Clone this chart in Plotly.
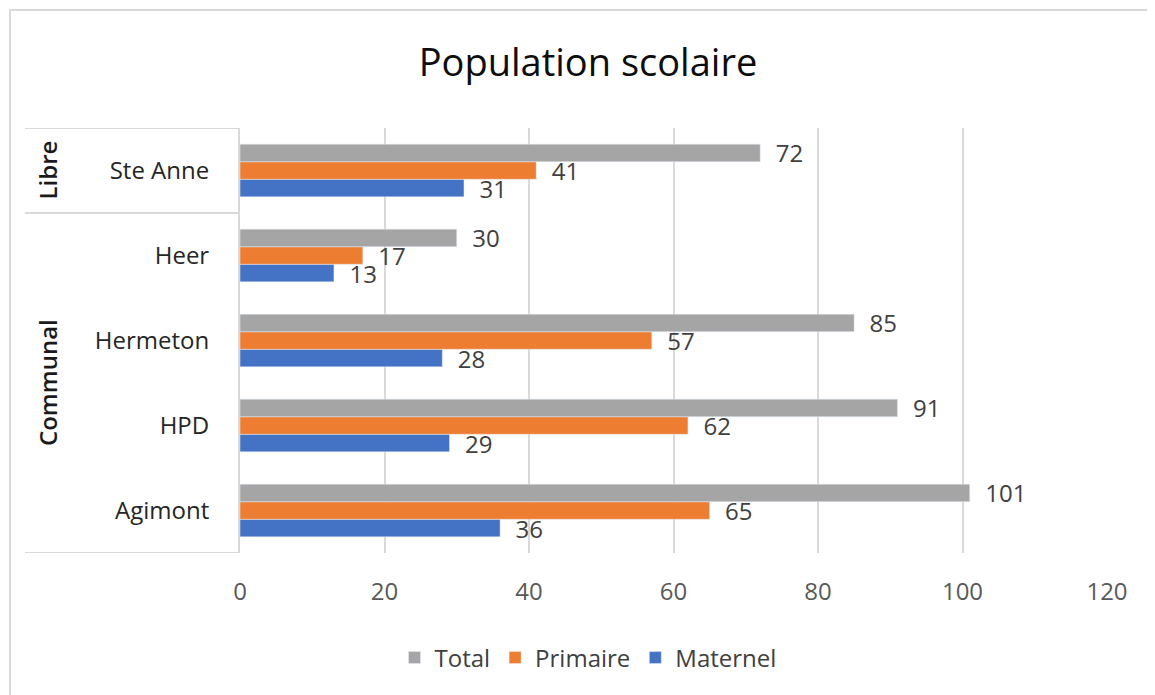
import plotly.graph_objects as go

schools = ["Agimont", "HPD", "Hermeton", "Heer", "Ste Anne"]
groups = ["Communal", "Communal", "Communal", "Communal", "Libre"]
maternel = [36, 29, 28, 13, 31]
primaire = [65, 62, 57, 17, 41]
total = [101, 91, 85, 30, 72]
x_ticks = [0, 20, 40, 60, 80, 100, 120]

OFF = 8  # browser body margin
W, H = 1155 - OFF, 695 - OFF
L, R, T, B = 240 - OFF, 48, 128 - OFF, 142
pw, ph = W - L - R, H - T - B

def px_x(p):
    return (p - OFF - L) / pw

def px_y(p):
    return (H - B - (p - OFF)) / ph

FONT = "Open Sans"
fig = go.Figure()
series = [("Maternel", maternel, "#4472C4"), ("Primaire", primaire, "#ED7D31"), ("Total", total, "#A5A5A5")]
for name, vals, col in series:
    fig.add_trace(go.Bar(
        y=schools, x=vals, name=name, orientation="h", marker_color=col,
        text=vals, texttemplate="\u00a0\u00a0%{x}", textposition="outside", constraintext="none",
        textfont=dict(family=FONT, size=24, color="#404040"), cliponaxis=False,
    ))

# group spans on the category axis (index positions)
group_names = []
for g in groups:
    if g not in group_names:
        group_names.append(g)
spans = {g: [i for i, gg in enumerate(groups) if gg == g] for g in group_names}

shapes = []
line = dict(color="#d9d9d9", width=2)
bounds = sorted({min(v) - 0.5 for v in spans.values()} | {max(v) + 0.5 for v in spans.values()})
for b in bounds:
    shapes.append(dict(type="line", xref="paper", yref="y", x0=px_x(25), x1=0, y0=b, y1=b, line=line))
# chart border
shapes.append(dict(type="rect", xref="paper", yref="paper", x0=px_x(10), x1=1.2, y0=px_y(10), y1=px_y(720),
                   line=dict(color="#d9d9d9", width=2), fillcolor="rgba(0,0,0,0)", layer="below"))

annotations = []
for g in group_names:
    idx = spans[g]
    annotations.append(dict(text=g, xref="paper", yref="y", x=px_x(47), y=(min(idx) + max(idx)) / 2,
                            xanchor="center", yanchor="middle", textangle=-90, showarrow=False,
                            font=dict(family=FONT, size=24, color="#1a1a1a", weight=600)))

fig.update_layout(
    width=W, height=H, margin=dict(l=L, r=R, t=T, b=B, autoexpand=False),
    paper_bgcolor="white", plot_bgcolor="white",
    barmode="group", bargap=0.38, bargroupgap=0,
    title=dict(text="Population scolaire", x=(588 - OFF) / W, xanchor="center",
               y=1 - (63 - OFF) / H, yanchor="middle",
               font=dict(family=FONT, size=38, color="#0d0d0d")),
    legend=dict(orientation="h", traceorder="reversed", x=px_x(588), xanchor="center",
                y=px_y(658), yanchor="middle",
                font=dict(family=FONT, size=24, color="#404040"), itemwidth=30),
    shapes=shapes, annotations=annotations, showlegend=True,
)
fig.update_xaxes(range=[0, 120], tickvals=x_ticks, showgrid=True, gridcolor="#d9d9d9", gridwidth=2,
                 zeroline=False, showline=False, ticks="", ticklabelstandoff=22, tickangle=0,
                 tickfont=dict(family=FONT, size=24, color="#595959"), fixedrange=True)
fig.update_yaxes(type="category", categoryorder="array", categoryarray=schools, showline=True,
                 range=[-0.5, len(schools) - 0.5],
                 linecolor="#d9d9d9", linewidth=2, ticks="", ticklabelstandoff=24, showgrid=False,
                 tickfont=dict(family=FONT, size=24, color="#262626"), fixedrange=True)

fig.write_html("out.html")
